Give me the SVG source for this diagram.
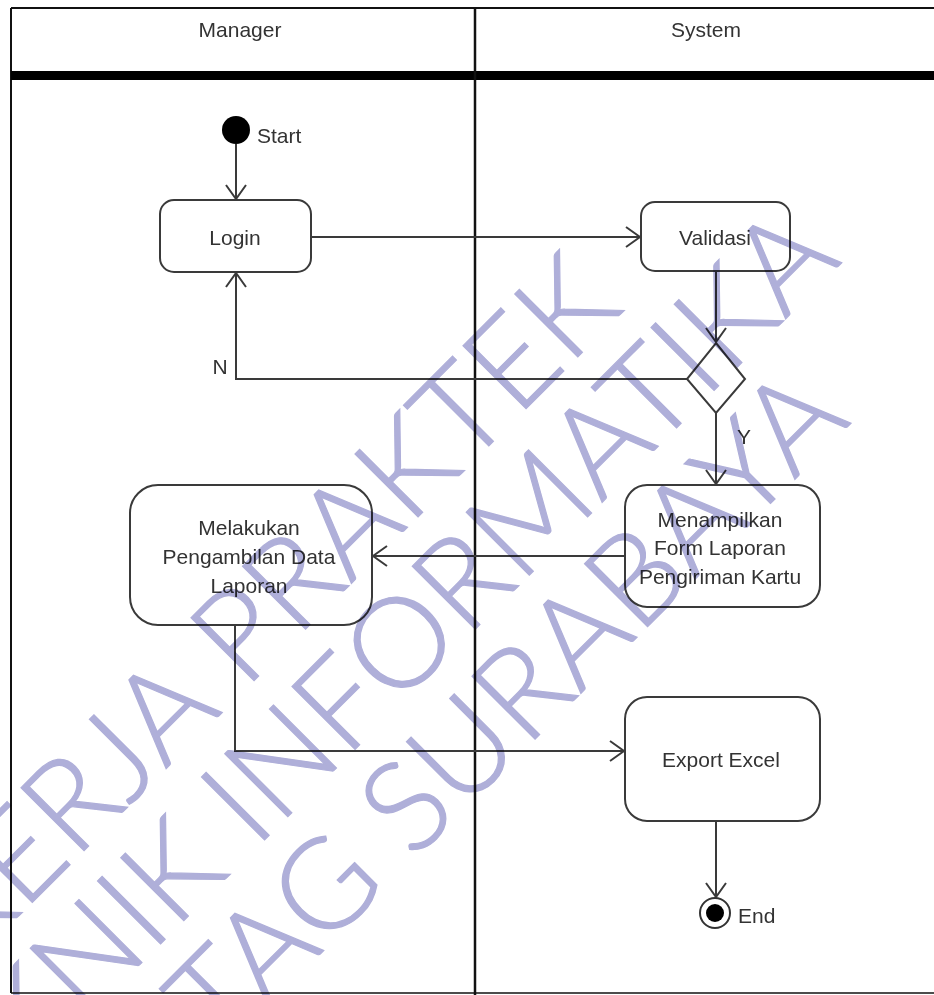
<svg xmlns="http://www.w3.org/2000/svg" width="934" height="995" viewBox="0 0 934 995">
  <style>
    .lane { fill: none; stroke: #111; }
    .node { fill: #fff; stroke: #3a3a3a; stroke-width: 2; }
    .lbl { font-family: "Liberation Sans", Arial, sans-serif; font-size: 21px; fill: #333; }
    .mid { text-anchor: middle; }
    .edge { fill: none; stroke: #3a3a3a; stroke-width: 2; }
    .wm { font-family: Lato, "Open Sans", sans-serif; font-weight: 300; font-size: 126px; fill: #afafd9; stroke: #afafd9; stroke-width: 1.2; text-anchor: end; }
  </style>
  <defs>
    <marker id="open-arrow" viewBox="-16 -12 18 24" refX="0" refY="0" markerWidth="18" markerHeight="24" markerUnits="userSpaceOnUse" orient="auto">
      <path d="M-14,-10 L0,0 L-14,10" fill="none" stroke="#3a3a3a" stroke-width="2"/>
    </marker>
  </defs>

  <rect width="934" height="995" fill="#fff"/>

  <!-- swimlane frame -->
  <g id="lanes">
    <line class="lane" x1="11" y1="8" x2="934" y2="8" stroke-width="2" stroke="#444"/>
    <line class="lane" x1="11" y1="8" x2="11" y2="993" stroke-width="2" stroke="#444"/>
    <line class="lane" x1="11" y1="993" x2="934" y2="993" stroke-width="1.5" stroke="#ccc"/>
    <rect x="11" y="71" width="923" height="9" fill="#000"/>
    <line class="lane" x1="475" y1="8" x2="475" y2="995" stroke-width="2.5"/>
    <text class="lbl mid" x="240" y="37">Manager</text>
    <text class="lbl mid" x="706" y="37">System</text>
  </g>

  <!-- connectors -->
  <g id="connectors">
    <path class="edge" d="M236,144 V199" marker-end="url(#open-arrow)"/>
    <path class="edge" d="M311,237 H640" marker-end="url(#open-arrow)"/>
    <path class="edge" d="M716,271 V342" marker-end="url(#open-arrow)"/>
    <path class="edge" d="M687,379 H236 V273" marker-end="url(#open-arrow)"/>
    <path class="edge" d="M716,413 V484" marker-end="url(#open-arrow)"/>
    <path class="edge" d="M625,556 H373" marker-end="url(#open-arrow)"/>
    <path class="edge" d="M235,625 V751 H624" marker-end="url(#open-arrow)"/>
    <path class="edge" d="M716,821 V897" marker-end="url(#open-arrow)"/>
    <text class="lbl mid" x="220" y="374">N</text>
    <text class="lbl mid" x="744" y="444">Y</text>
  </g>

  <g id="start">
    <circle cx="236" cy="130" r="14" fill="#000"/>
    <text class="lbl" x="257" y="143">Start</text>
  </g>

  <g id="login">
    <rect class="node" x="160" y="200" width="151" height="72" rx="14"/>
    <text class="lbl mid" x="235" y="245">Login</text>
  </g>

  <g id="validasi">
    <rect class="node" x="641" y="202" width="149" height="69" rx="14"/>
    <text class="lbl mid" x="715" y="245">Validasi</text>
  </g>

  <g id="decision">
    <polygon class="node" points="716,343 745,379 716,413 687,379"/>
  </g>

  <g id="menampilkan">
    <rect class="node" x="625" y="485" width="195" height="122" rx="22"/>
    <text class="lbl mid" x="720" y="527">Menampilkan</text>
    <text class="lbl mid" x="720" y="555">Form Laporan</text>
    <text class="lbl mid" x="720" y="584">Pengiriman Kartu</text>
  </g>

  <g id="melakukan">
    <rect class="node" x="130" y="485" width="242" height="140" rx="28"/>
    <text class="lbl mid" x="249" y="535">Melakukan</text>
    <text class="lbl mid" x="249" y="564">Pengambilan Data</text>
    <text class="lbl mid" x="249" y="593">Laporan</text>
  </g>

  <g id="export">
    <rect class="node" x="625" y="697" width="195" height="124" rx="22"/>
    <text class="lbl mid" x="721" y="767">Export Excel</text>
  </g>

  <g id="end">
    <circle cx="715" cy="913" r="15" fill="#fff" stroke="#333" stroke-width="2"/>
    <circle cx="715" cy="913" r="9" fill="#000"/>
    <text class="lbl" x="738" y="923">End</text>
  </g>

  <!-- watermark overlay -->
  <g id="watermark" transform="rotate(-45)" style="mix-blend-mode:multiply">
    <text class="wm" x="223" y="661">KERJA PRAKTEK</text>
    <text class="wm" x="411" y="781">TEKNIK INFORMATIKA</text>
    <text class="wm" x="304" y="901">UNTAG SURABAYA</text>
  </g>
</svg>
